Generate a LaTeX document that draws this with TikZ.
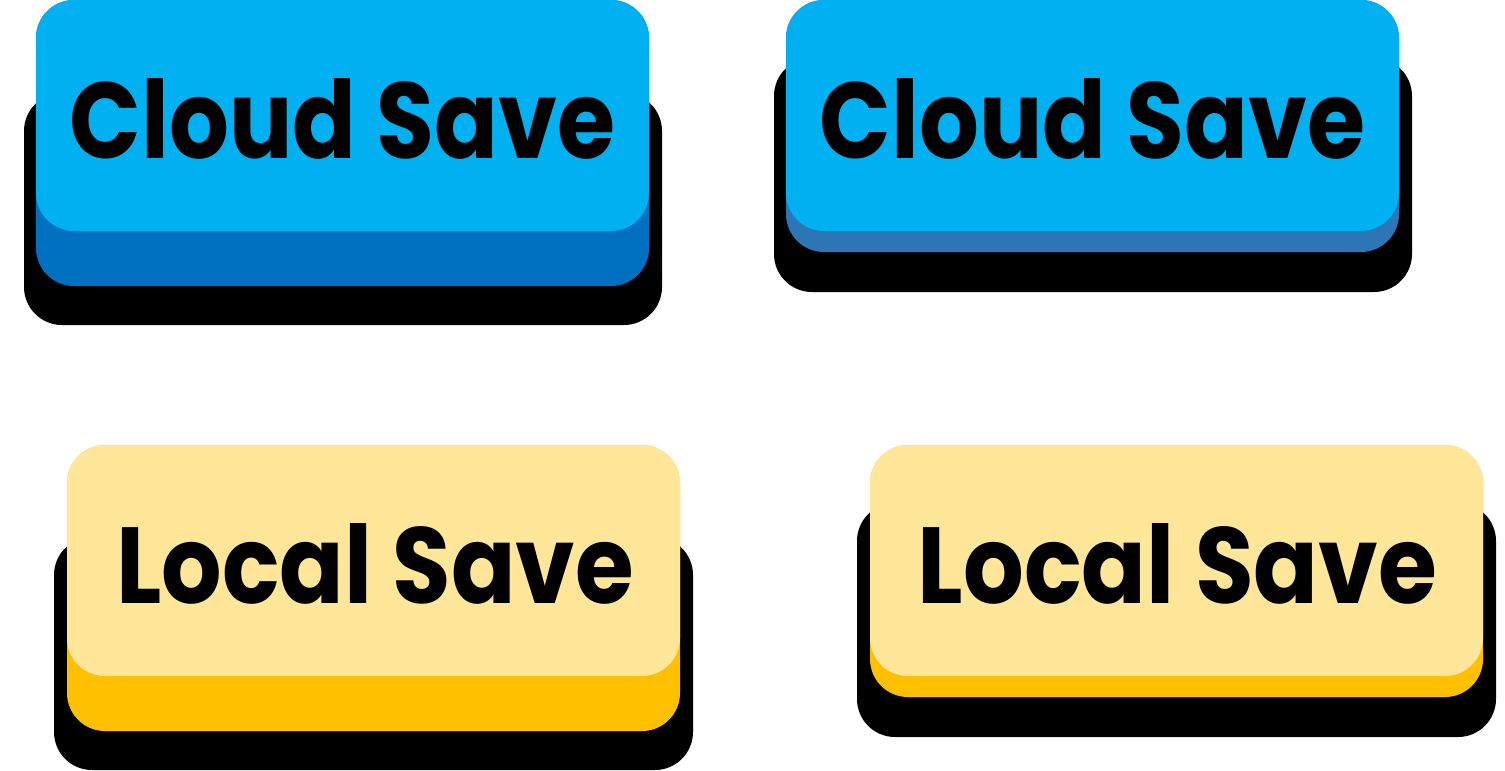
\documentclass[tikz,border=0pt]{standalone}
\usepackage{fontspec}
\newfontfamily\btnfont{Poppins}
\definecolor{faceblue}{HTML}{00B0F0}
\definecolor{sideblueA}{HTML}{0070C0}
\definecolor{sideblueB}{HTML}{2E75B6}
\definecolor{faceyellow}{HTML}{FFE699}
\definecolor{sidegold}{HTML}{FFC000}
\newcommand\btnlabel[2]{\resizebox{#1}{80pt}{\btnfont\bfseries #2}}
\tikzset{
  shadowbox/.style={fill=black, rounded corners=38pt},
  sidebox/.style={rounded corners=38pt},
  facebox/.style={rounded corners=38pt},
  btntext/.style={inner sep=0pt, anchor=base, text=black},
}
\begin{document}
\begin{tikzpicture}[x=1pt,y=-1pt]
\useasboundingbox (0,0) rectangle (1505,771);
% top left
\fill[shadowbox] (24,93) rectangle (662,325);
\fill[sidebox, fill=sideblueA] (36,0) rectangle (649,286);
\fill[facebox, fill=faceblue] (36,0) rectangle (649,231);
\node[btntext] (cloudA) at (342.5,158) {\btnlabel{545pt}{Cloud Save}};
% top right
\fill[shadowbox] (774,58) rectangle (1412,292);
\fill[sidebox, fill=sideblueB] (786,0) rectangle (1399,252);
\fill[facebox, fill=faceblue] (786,0) rectangle (1399,231);
\node[btntext] (cloudB) at (1092.5,158) {\btnlabel{545pt}{Cloud Save}};
% bottom left
\fill[shadowbox] (54,537) rectangle (693,770);
\fill[sidebox, fill=sidegold] (67,445) rectangle (680,731);
\fill[facebox, fill=faceyellow] (67,445) rectangle (680,676);
\node[btntext] (localA) at (375,603) {\btnlabel{517pt}{Local Save}};
% bottom right
\fill[shadowbox] (857,503) rectangle (1496,737);
\fill[sidebox, fill=sidegold] (870,445) rectangle (1483,697);
\fill[facebox, fill=faceyellow] (870,445) rectangle (1483,676);
\node[btntext] (localB) at (1177.5,603) {\btnlabel{519pt}{Local Save}};
\end{tikzpicture}
\end{document}
